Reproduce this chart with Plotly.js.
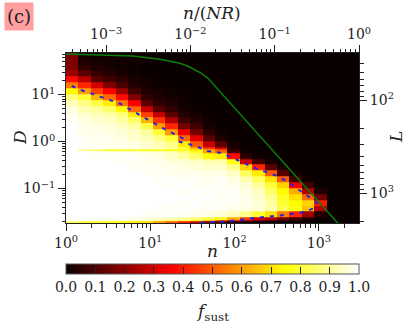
<!DOCTYPE html>
<html>
<head>
<meta charset="utf-8">
<script src="https://cdn.plot.ly/plotly-2.35.2.min.js"></script>
<style>
  html, body { margin: 0; padding: 0; background: #fff; }
  #plot { width: 416px; height: 333px; }
</style>
</head>
<body>
<div id="plot"></div>
<script>
// bin edges, log10 n and log10 D
const nStep = 0.1473;
const logNEdges = Array.from({length: 25}, (_, i) => i * nStep);
const logDEdges = [1.9, 1.758, 1.633, 1.508, 1.383, 1.258, 1.133, 1.008, 0.883, 0.758, 0.633, 0.508,
  0.383, 0.258, 0.133, 0.008, -0.117, -0.170, -0.213, -0.242, -0.367, -0.492, -0.617, -0.742,
  -0.867, -0.992, -1.117, -1.242, -1.367, -1.492, -1.617, -1.670, -1.706, -1.76];

// f_sust in percent, top row first
const fsustPct = [
  [17,2,1,1,1,1,0,0,0,0,0,0,0,0,0,0,0,0,0,0,0,0,0,0],
  [17,3,2,1,1,1,0,0,0,0,0,0,0,0,0,0,0,0,0,0,0,0,0,0],
  [18,6,3,2,1,1,0,0,0,0,0,0,0,0,0,0,0,0,0,0,0,0,0,0],
  [22,12,6,4,2,1,0,0,0,0,0,0,0,0,0,0,0,0,0,0,0,0,0,0],
  [38,26,12,8,5,2,1,0,0,0,0,0,0,0,0,0,0,0,0,0,0,0,0,0],
  [55,42,30,18,10,4,2,1,0,0,0,0,0,0,0,0,0,0,0,0,0,0,0,0],
  [74,60,46,36,22,8,3,2,1,0,0,0,0,0,0,0,0,0,0,0,0,0,0,0],
  [87,80,64,52,38,18,6,3,2,1,0,0,0,0,0,0,0,0,0,0,0,0,0,0],
  [93,88,82,72,54,36,12,6,3,1,0,0,0,0,0,0,0,0,0,0,0,0,0,0],
  [97,92,90,85,74,52,28,12,6,2,1,0,0,0,0,0,0,0,0,0,0,0,0,0],
  [98,95,93,91,87,72,46,28,12,4,2,0,0,0,0,0,0,0,0,0,0,0,0,0],
  [99,97,95,94,91,85,64,44,25,8,4,1,0,0,0,0,0,0,0,0,0,0,0,0],
  [100,98,97,96,94,91,82,60,42,16,8,2,0,0,0,0,0,0,0,0,0,0,0,0],
  [100,98,98,97,96,94,90,80,60,34,16,5,1,0,0,0,0,0,0,0,0,0,0,0],
  [100,99,98,98,97,95,93,88,80,52,32,12,3,0,0,0,0,0,0,0,0,0,0,0],
  [100,99,99,98,98,97,95,92,88,72,50,28,12,2,0,0,0,0,0,0,0,0,0,0],
  [100,99,99,99,98,98,96,94,90,82,64,45,30,4,1,0,0,0,0,0,0,0,0,0],
  [100,90,86,80,79,79,78,78,77,77,72,62,50,5,1,0,0,0,0,0,0,0,0,0],
  [100,100,99,99,99,98,97,95,93,88,78,60,52,10,1,0,0,0,0,0,0,0,0,0],
  [100,100,99,99,99,99,98,97,94,90,85,74,72,38,5,1,0,0,0,0,0,0,0,0],
  [100,100,100,100,99,99,98,98,96,96,94,92,92,76,30,8,2,0,0,0,0,0,0,0],
  [100,100,100,100,100,99,99,98,98,97,96,95,95,88,68,42,12,2,0,0,0,0,0,0],
  [100,100,100,100,100,100,99,99,98,98,98,97,97,94,84,72,50,12,1,0,0,0,0,0],
  [100,100,100,100,100,100,100,99,100,99,99,98,99,97,92,84,70,50,8,1,0,0,0,0],
  [100,100,100,100,100,100,100,100,99,100,99,99,99,98,96,90,80,68,35,8,0,0,0,0],
  [100,100,100,100,100,100,100,100,100,99,100,99,99,99,97,94,85,74,62,25,3,0,0,0],
  [100,100,100,100,100,100,100,100,100,100,99,100,99,99,98,95,89,78,70,52,15,0,0,0],
  [100,100,100,100,100,100,100,100,100,99,100,99,99,99,98,96,91,80,74,68,40,0,0,0],
  [100,100,100,100,100,100,100,99,99,100,99,99,99,98,97,96,92,83,76,65,25,0,0,0],
  [100,100,100,100,100,100,99,99,99,99,98,97,96,93,88,80,70,55,42,22,4,0,0,0],
  [100,100,99,99,99,98,97,95,93,90,86,82,76,62,45,32,25,15,8,3,0,0,0,0],
  [98,97,96,95,94,93,90,86,82,78,72,62,42,28,20,12,8,4,2,1,0,0,0,0],
  [85,80,78,76,74,72,70,60,50,40,30,20,10,5,3,2,1,0,0,0,0,0,0,0]
];

// blue dashed curve, log10 n and log10 D
const blueLogN = [0.068, 0.166, 0.284, 0.411, 0.530, 0.643, 0.743, 0.853, 0.960, 1.066, 1.179, 1.291, 1.402,
  1.342, 1.418, 1.528, 1.682, 1.825, 1.935, 2.050, 2.156, 2.275, 2.397, 2.515, 2.627, 2.733, 2.832, 2.923,
  2.974, 2.954, 2.840, 2.713, 2.595, 2.464, 2.338, 2.212, 2.082, 1.963, 1.833, 1.706, 1.579];
const blueLogD = [1.181, 1.102, 1.032, 0.953, 0.883, 0.804, 0.698, 0.585, 0.464, 0.362, 0.255, 0.153, 0.053,
  -0.004, -0.038, -0.089, -0.202, -0.238, -0.315, -0.409, -0.506, -0.589, -0.664, -0.740, -0.855, -0.983, -1.102, -1.230,
  -1.309, -1.409, -1.494, -1.536, -1.564, -1.585, -1.606, -1.632, -1.670, -1.691, -1.706, -1.719, -1.728];

// green curve
const greenN = [1, 2.98, 6.22, 13.0, 22.4, 29.4, 38.7, 48.1, 173, 1670, 2000];
const greenD = [72.8, 69.2, 65.9, 56.1, 46.1, 38.5, 29.4, 22.4, 1.76, 0.0185, 0.0129];

const colorbarTicks = [0, 0.1, 0.2, 0.3, 0.4, 0.5, 0.6, 0.7, 0.8, 0.9, 1];

const pow10 = v => Math.pow(10, v);
const serif = "DejaVu Serif";
const ink = "#222";

function minorTicks(lo, hi) {
  const out = [];
  for (let e = lo; e < hi; e++) {
    for (let m = 2; m < 10; m++) out.push(m * Math.pow(10, e));
  }
  return out;
}

function logAxis(range, vals, labels, minorLo, minorHi) {
  return {
    type: "log",
    range: range,
    tickmode: "array",
    tickvals: vals,
    ticktext: labels,
    ticks: "outside",
    ticklen: 7,
    tickwidth: 1,
    tickcolor: ink,
    showgrid: false,
    zeroline: false,
    showline: true,
    linecolor: ink,
    linewidth: 1,
    tickfont: {family: serif, size: 14, color: ink},
    minor: {ticks: "outside", ticklen: 3.5, tickwidth: 1, tickcolor: ink, tickmode: "array",
      tickvals: minorTicks(minorLo, minorHi), showgrid: false}
  };
}

// axis titles sit closer than plotly's own title placement allows
function axisLabel(text, x, y, angle) {
  return {
    text: text, xref: "paper", yref: "paper", x: (x - 66) / 293, y: (223 - y) / 170,
    xanchor: "center", yanchor: "middle", showarrow: false, textangle: angle,
    font: {family: serif, size: 17, color: ink}
  };
}

const heat = {
  type: "heatmap",
  x: logNEdges.map(pow10),
  y: logDEdges.map(pow10),
  z: fsustPct.map(row => row.map(v => v / 100)),
  zmin: 0,
  zmax: 1,
  hoverinfo: "skip",
  colorscale: [[0, "rgb(10,0,0)"], [0.365, "rgb(255,0,0)"], [0.746, "rgb(255,255,0)"], [1, "rgb(255,255,255)"]],
  colorbar: {
    orientation: "h",
    x: 0, xanchor: "left", xpad: 0,
    y: -0.244, yanchor: "top", ypad: 0,
    len: 293, lenmode: "pixels",
    thickness: 10, thicknessmode: "pixels",
    outlinecolor: "#555", outlinewidth: 1,
    tickmode: "array", tickvals: colorbarTicks, ticktext: colorbarTicks.map(v => v.toFixed(1)),
    ticks: "inside", ticklen: 7, tickwidth: 1, tickcolor: ink,
    tickfont: {family: serif, size: 14, color: ink}
  }
};

const green = {
  type: "scatter", mode: "lines", x: greenN, y: greenD, hoverinfo: "skip",
  line: {color: "#0a7d0a", width: 1.5}
};
const blue = {
  type: "scatter", mode: "lines", x: blueLogN.map(pow10), y: blueLogD.map(pow10), hoverinfo: "skip",
  line: {color: "#2222e0", width: 2, dash: "4px,6px"}
};
// empty trace so the top and right axes exist
const other = {type: "scatter", x: [], y: [], xaxis: "x2", yaxis: "y2", hoverinfo: "skip"};

const xBottom = logAxis([0, 3.476], [1, 10, 100, 1000], ["10<sup>0</sup>", "10<sup>1</sup>", "10<sup>2</sup>", "10<sup>3</sup>"], 0, 4);
xBottom.anchor = "y";

const xTop = logAxis([-3.476, 0], [0.001, 0.01, 0.1, 1], ["10<sup>−3</sup>", "10<sup>−2</sup>", "10<sup>−1</sup>", "10<sup>0</sup>"], -4, 0);
xTop.overlaying = "x";
xTop.side = "top";
xTop.anchor = "y";

const yLeft = logAxis([-1.734, 1.883], [0.1, 1, 10], ["10<sup>−1</sup>", "10<sup>0</sup>", "10<sup>1</sup>"], -2, 2);
yLeft.anchor = "x";

const yRight = logAxis([3.32, 1.49], [100, 1000], ["10<sup>2</sup>", "10<sup>3</sup>"], 1, 4);
yRight.overlaying = "y";
yRight.side = "right";
yRight.anchor = "x";

const layout = {
  width: 416,
  height: 333,
  margin: {l: 66, r: 57, t: 53, b: 110, autoexpand: false},
  paper_bgcolor: "#fff",
  plot_bgcolor: "#0a0000",
  showlegend: false,
  font: {family: serif},
  xaxis: xBottom,
  xaxis2: xTop,
  yaxis: yLeft,
  yaxis2: yRight,
  annotations: [
    axisLabel("<i>n</i>/(<i>NR</i>)", 212, 13, 0),
    axisLabel("<i>n</i>", 212, 251, 0),
    axisLabel("<i>D</i>", 20, 138, -90),
    axisLabel("<i>L</i>", 396, 137, -90),
    axisLabel("<i>f</i><sub>sust</sub>", 212, 312, 0),
    {
      text: "(c)", xref: "paper", yref: "paper", x: -0.161, y: 1.212, xanchor: "center", yanchor: "middle",
      showarrow: false, width: 28, height: 27, bgcolor: "#ff9f9f", borderpad: 0,
      font: {family: serif, size: 18, color: ink}
    }
  ]
};

Plotly.newPlot("plot", [heat, green, blue, other], layout, {displayModeBar: false, staticPlot: true});
</script>
</body>
</html>
